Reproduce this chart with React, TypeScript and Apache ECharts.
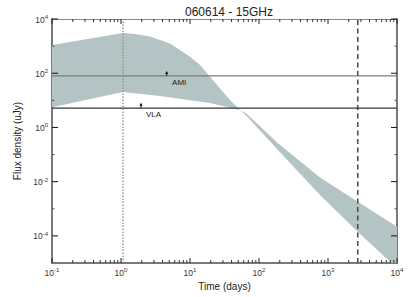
import React, { useEffect, useRef } from 'react';
import * as echarts from 'echarts';

// Model band (upper / lower envelopes), time in days, flux in uJy
const upperTime = [0.1, 1.07, 1.6, 2.63, 5.13, 7.16, 10, 14, 19.5, 27.2, 38, 53, 67, 188, 766, 2700, 10000];
const upperFlux = [1096, 3020, 2800, 2240, 1260, 724, 407, 200, 74, 27.5, 10.2, 4.4, 3.1, 0.26, 0.0141, 0.00182, 0.000219];
const lowerTime = [0.1, 1.07, 3.67, 19.5, 53, 67, 188, 766, 2700, 8300, 10000];
const lowerFlux = [5.6, 20.4, 14.5, 7.9, 4.4, 2.6, 0.148, 0.00324, 0.000141, 0.00001, 0.00001];

// Instrument limits
const limitNames = ['AMI', 'VLA'];
const limitFlux = [80, 5.2];
const limitColors = ['#7c7c7c', '#363636'];
const arrowTime = [4.6, 1.95];
const arrowTopFlux = [122, 8.2];
const labelTime = [5.5, 2.3];
const labelFlux = [44, 2.9];

// Vertical event lines (days)
const eventTimes = [1.07, 2700];

// Axis ranges / ticks
const X_MIN = 0.1;
const X_MAX = 10000;
const Y_MIN = 1e-5;
const Y_MAX = 1e4;
const xMajorTicks = [0.1, 1, 10, 100, 1000, 10000];
const yMajorTicks = [1e-4, 1e-2, 1, 1e2, 1e4];
const yMinorTicks = [1e-3, 1e-1, 10, 1e3];
const xMinorTicks: number[] = [];
for (let e = -1; e < 4; e++) {
  for (let m = 2; m <= 9; m++) xMinorTicks.push(m * Math.pow(10, e));
}

const FONT = '"Liberation Sans", Arial, Helvetica, sans-serif';

const supLabel = (value: number) => {
  const exp = Math.round(Math.log10(value));
  return `{b|10}{s|${exp}}`;
};

const richSup = {
  b: { fontSize: 8.5, color: '#333', fontFamily: FONT, verticalAlign: 'bottom' },
  s: { fontSize: 6, color: '#333', fontFamily: FONT, verticalAlign: 'bottom', padding: [0, 0, 4, 0] },
};

export default function App() {
  const ref = useRef<HTMLDivElement>(null);

  useEffect(() => {
    document.body.style.margin = '0';
    if (!ref.current) return;
    const chart = echarts.init(ref.current, undefined, { renderer: 'svg' });

    const line = (p1: number[], p2: number[], stroke: string, lineWidth: number, lineDash?: number[]) => ({
      type: 'line',
      silent: true,
      shape: { x1: p1[0], y1: p1[1], x2: p2[0], y2: p2[1] },
      style: { stroke, lineWidth, lineDash },
    });

    const option: any = {
      animation: false,
      backgroundColor: '#fff',
      title: {
        text: '060614 - 15GHz',
        left: 224,
        textAlign: 'center',
        top: 1,
        textStyle: { fontSize: 12, fontWeight: 'normal', color: '#222', fontFamily: FONT },
      },
      grid: { left: 52, right: 17, top: 19, bottom: 34, outerBoundsMode: 'none' },
      xAxis: [
        {
          type: 'log',
          logBase: 10,
          min: X_MIN,
          max: X_MAX,
          position: 'bottom',
          name: 'Time (days)',
          nameLocation: 'middle',
          nameGap: 17,
          nameTextStyle: { fontSize: 10, color: '#222', fontFamily: FONT },
          axisLine: { show: true, lineStyle: { color: '#7a7a7a', width: 2 } },
          axisTick: { show: false },
          splitLine: { show: false },
          axisLabel: { formatter: supLabel, rich: richSup, margin: 4 },
        },
        {
          type: 'log',
          logBase: 10,
          min: X_MIN,
          max: X_MAX,
          position: 'top',
          axisLine: { show: true, lineStyle: { color: '#8a8a8a', width: 1 } },
          axisTick: { show: false },
          splitLine: { show: false },
          axisLabel: { show: false },
        },
      ],
      yAxis: [
        {
          type: 'log',
          logBase: 10,
          min: Y_MIN,
          max: Y_MAX,
          position: 'left',
          name: 'Flux density (uJy)',
          nameLocation: 'middle',
          nameGap: 22,
          nameTextStyle: { fontSize: 10, color: '#222', fontFamily: FONT },
          axisLine: { show: true, lineStyle: { color: '#7a7a7a', width: 2 } },
          axisTick: { show: false },
          splitLine: { show: false },
          axisLabel: {
            formatter: (v: number) => {
              const exp = Math.round(Math.log10(v));
              return exp % 2 === 0 ? supLabel(v) : '';
            },
            rich: richSup,
            margin: 4,
          },
        },
        {
          type: 'log',
          logBase: 10,
          min: Y_MIN,
          max: Y_MAX,
          position: 'right',
          axisLine: { show: true, lineStyle: { color: '#7a7a7a', width: 2 } },
          axisTick: { show: false },
          splitLine: { show: false },
          axisLabel: { show: false },
        },
      ],
      series: [
        {
          type: 'custom',
          name: 'band',
          coordinateSystem: 'cartesian2d',
          xAxisIndex: 0,
          yAxisIndex: 0,
          z: 1,
          silent: true,
          data: [[1, 1]],
          renderItem: (_p: any, api: any) => {
            const up = upperTime.map((t, i) => api.coord([t, upperFlux[i]]));
            const lo = lowerTime.map((t, i) => api.coord([t, lowerFlux[i]])).reverse();
            return {
              type: 'polygon',
              silent: true,
              shape: { points: up.concat(lo) },
              style: { fill: '#b4c3c3', stroke: 'none' },
            };
          },
        },
        {
          type: 'custom',
          name: 'overlays',
          coordinateSystem: 'cartesian2d',
          xAxisIndex: 0,
          yAxisIndex: 0,
          z: 5,
          silent: true,
          data: [[1, 1]],
          renderItem: (_p: any, api: any) => {
            const children: any[] = [];
            const v0b = api.coord([eventTimes[0], Y_MIN]);
            const v0t = api.coord([eventTimes[0], Y_MAX]);
            children.push(line(v0b, v0t, '#8e8e8e', 1.3, [1.5, 1.5]));
            const v1b = api.coord([eventTimes[1], Y_MIN]);
            const v1t = api.coord([eventTimes[1], Y_MAX]);
            children.push(line(v1b, v1t, '#505050', 1.6, [5, 3.5]));
            limitFlux.forEach((f, i) => {
              const a = api.coord([X_MIN, f]);
              const b = api.coord([X_MAX, f]);
              children.push(line(a, b, limitColors[i], 1.3));
              const s = api.coord([arrowTime[i], f]);
              const e = api.coord([arrowTime[i], arrowTopFlux[i]]);
              children.push(line(s, [e[0], e[1] + 2], '#111', 1));
              children.push({
                type: 'polygon',
                silent: true,
                shape: { points: [[e[0], e[1]], [e[0] - 1.6, e[1] + 3], [e[0] + 1.6, e[1] + 3]] },
                style: { fill: '#111' },
              });
              const lp = api.coord([labelTime[i], labelFlux[i]]);
              children.push({
                type: 'text',
                silent: true,
                x: lp[0],
                y: lp[1],
                style: {
                  text: limitNames[i],
                  fontSize: 8,
                  fontFamily: FONT,
                  fill: '#222',
                  align: 'left',
                  verticalAlign: 'middle',
                },
              });
            });
            return { type: 'group', children };
          },
        },
        {
          type: 'custom',
          name: 'ticks',
          coordinateSystem: 'cartesian2d',
          xAxisIndex: 0,
          yAxisIndex: 0,
          z: 6,
          silent: true,
          data: [[1, 1]],
          renderItem: (_p: any, api: any) => {
            const children: any[] = [];
            xMajorTicks.forEach((t) => {
              const b = api.coord([t, Y_MIN]);
              const tp = api.coord([t, Y_MAX]);
              children.push(line(b, [b[0], b[1] - 5], '#222', 1));
              children.push(line(tp, [tp[0], tp[1] + 5], '#222', 1));
            });
            xMinorTicks.forEach((t) => {
              const b = api.coord([t, Y_MIN]);
              const tp = api.coord([t, Y_MAX]);
              children.push(line(b, [b[0], b[1] - 3], '#333', 1));
              children.push(line(tp, [tp[0], tp[1] + 3], '#333', 1));
            });
            yMajorTicks.forEach((f) => {
              const l = api.coord([X_MIN, f]);
              const r = api.coord([X_MAX, f]);
              children.push(line(l, [l[0] + 6, l[1]], '#111', 1));
              children.push(line(r, [r[0] - 6, r[1]], '#111', 1));
            });
            yMinorTicks.forEach((f) => {
              const l = api.coord([X_MIN, f]);
              const r = api.coord([X_MAX, f]);
              children.push(line(l, [l[0] + 2.5, l[1]], '#555', 1));
              children.push(line(r, [r[0] - 2.5, r[1]], '#555', 1));
            });
            return { type: 'group', children };
          },
        },
      ],
    };

    chart.setOption(option);
    return () => chart.dispose();
  }, []);

  return <div ref={ref} style={{ width: 414, height: 297 }} />;
}
